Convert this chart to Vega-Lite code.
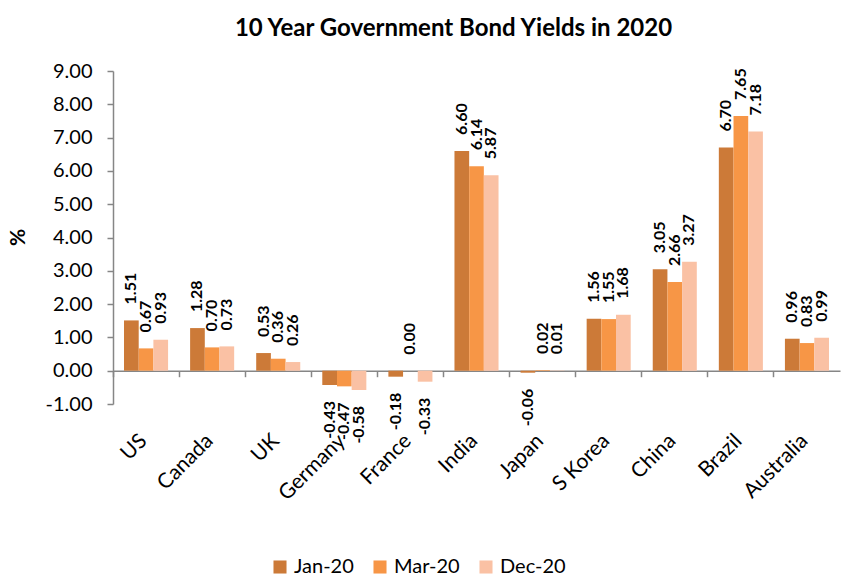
{
  "$schema": "https://vega.github.io/schema/vega-lite/v6.json",
  "width": 727,
  "height": 333,
  "autosize": {"type": "none"},
  "padding": {"left": 113, "top": 71, "right": 1, "bottom": 174},
  "background": "white",
  "config": {
    "view": {"stroke": null},
    "font": "Lato",
    "locale": {"number": {"decimal": ".", "thousands": ",", "grouping": [3], "currency": ["$", ""], "minus": "-"}}
  },
  "title": {"text": "10 Year Government Bond Yields in 2020", "fontSize": 24, "fontWeight": "bold", "font": "Lato", "color": "black", "anchor": "middle", "dx": -23, "offset": 20},
  "data": {"values": [
    {"country": "US", "period": "Jan-20", "value": 1.51},
    {"country": "US", "period": "Mar-20", "value": 0.67},
    {"country": "US", "period": "Dec-20", "value": 0.93},
    {"country": "Canada", "period": "Jan-20", "value": 1.28},
    {"country": "Canada", "period": "Mar-20", "value": 0.70},
    {"country": "Canada", "period": "Dec-20", "value": 0.73},
    {"country": "UK", "period": "Jan-20", "value": 0.53},
    {"country": "UK", "period": "Mar-20", "value": 0.36},
    {"country": "UK", "period": "Dec-20", "value": 0.26},
    {"country": "Germany", "period": "Jan-20", "value": -0.43},
    {"country": "Germany", "period": "Mar-20", "value": -0.47},
    {"country": "Germany", "period": "Dec-20", "value": -0.58},
    {"country": "France", "period": "Jan-20", "value": -0.18},
    {"country": "France", "period": "Mar-20", "value": 0.00},
    {"country": "France", "period": "Dec-20", "value": -0.33},
    {"country": "India", "period": "Jan-20", "value": 6.60},
    {"country": "India", "period": "Mar-20", "value": 6.14},
    {"country": "India", "period": "Dec-20", "value": 5.87},
    {"country": "Japan", "period": "Jan-20", "value": -0.06},
    {"country": "Japan", "period": "Mar-20", "value": 0.02},
    {"country": "Japan", "period": "Dec-20", "value": 0.01},
    {"country": "S Korea", "period": "Jan-20", "value": 1.56},
    {"country": "S Korea", "period": "Mar-20", "value": 1.55},
    {"country": "S Korea", "period": "Dec-20", "value": 1.68},
    {"country": "China", "period": "Jan-20", "value": 3.05},
    {"country": "China", "period": "Mar-20", "value": 2.66},
    {"country": "China", "period": "Dec-20", "value": 3.27},
    {"country": "Brazil", "period": "Jan-20", "value": 6.70},
    {"country": "Brazil", "period": "Mar-20", "value": 7.65},
    {"country": "Brazil", "period": "Dec-20", "value": 7.18},
    {"country": "Australia", "period": "Jan-20", "value": 0.96},
    {"country": "Australia", "period": "Mar-20", "value": 0.83},
    {"country": "Australia", "period": "Dec-20", "value": 0.99}
  ]},
  "encoding": {
    "x": {
      "field": "country", "type": "nominal",
      "sort": ["US", "Canada", "UK", "Germany", "France", "India", "Japan", "S Korea", "China", "Brazil", "Australia"],
      "scale": {"paddingInner": 0, "paddingOuter": 0},
      "axis": {
        "title": null, "orient": "bottom", "offset": -33.3, "bandPosition": 0,
        "domainColor": "#868686", "domainWidth": 1.5, "tickColor": "#868686", "tickWidth": 1.5, "tickSize": 6,
        "labelAngle": -45, "labelAlign": "right", "labelBaseline": "top", "labelPadding": 53, "labelOffset": -10,
        "labelFontSize": 21, "labelFont": "Lato", "labelColor": "black"
      }
    },
    "xOffset": {"field": "period", "type": "nominal", "sort": ["Jan-20", "Mar-20", "Dec-20"], "scale": {"paddingInner": 0, "paddingOuter": 0.75}},
    "y": {
      "field": "value", "type": "quantitative",
      "scale": {"domain": [-1, 9], "nice": false, "zero": false},
      "axis": {
        "title": "%", "titleFontSize": 21, "titleFont": "Lato", "titleFontWeight": "bold", "titleColor": "black", "titleX": -85, "titleY": 166, "titleAngle": -90,
        "values": [-1, 0, 1, 2, 3, 4, 5, 6, 7, 8, 9], "format": ".2f", "grid": false,
        "domainColor": "#868686", "domainWidth": 1.5, "tickColor": "#868686", "tickWidth": 1.5, "tickSize": 6,
        "labelFontSize": 20, "labelFont": "Lato", "labelColor": "black", "labelPadding": 15
      }
    }
  },
  "layer": [
    {
      "mark": {"type": "bar"},
      "encoding": {
        "color": {
          "field": "period", "type": "nominal",
          "scale": {"domain": ["Jan-20", "Mar-20", "Dec-20"], "range": ["#CC7A38", "#F79646", "#FAC1A4"]},
          "legend": {
            "title": null, "orient": "none", "direction": "horizontal", "legendX": 157, "legendY": 486,
            "symbolType": "square", "symbolSize": 170, "symbolStrokeWidth": 0,
            "labelFontSize": 20, "labelFont": "Lato", "labelColor": "black", "labelOffset": 4,
            "columnPadding": 16, "padding": 0
          }
        }
      }
    },
    {
      "transform": [{"filter": "datum.value >= 0"}],
      "mark": {"type": "text", "angle": -90, "align": "left", "baseline": "middle", "dx": 16, "fontSize": 16, "fontWeight": "bold", "font": "Lato", "color": "black"},
      "encoding": {"text": {"field": "value", "type": "quantitative", "format": ".2f"}}
    },
    {
      "transform": [{"filter": "datum.value < 0"}],
      "mark": {"type": "text", "angle": -90, "align": "right", "baseline": "middle", "dx": -16, "fontSize": 16, "fontWeight": "bold", "font": "Lato", "color": "black"},
      "encoding": {"text": {"field": "value", "type": "quantitative", "format": ".2f"}}
    }
  ]
}
